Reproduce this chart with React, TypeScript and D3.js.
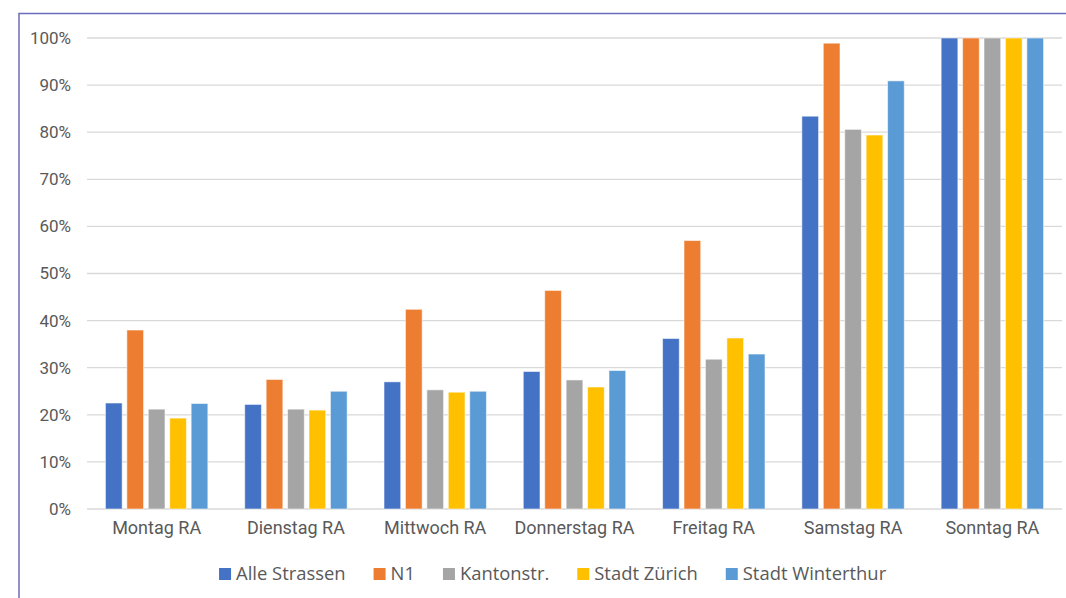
import React, { useEffect, useRef } from "react";
import * as d3 from "d3";

// Weekday categories (RA) and the share of the Sunday value per road type, in percent
const categories = [
  "Montag RA",
  "Dienstag RA",
  "Mittwoch RA",
  "Donnerstag RA",
  "Freitag RA",
  "Samstag RA",
  "Sonntag RA",
];

const seriesNames = ["Alle Strassen", "N1", "Kantonstr.", "Stadt Zürich", "Stadt Winterthur"];

const alleStrassen = [22.5, 22.2, 27.0, 29.2, 36.2, 83.4, 100];
const n1 = [38.0, 27.5, 42.4, 46.4, 57.0, 98.9, 100];
const kantonstr = [21.2, 21.2, 25.3, 27.4, 31.8, 80.6, 100];
const stadtZuerich = [19.3, 21.0, 24.8, 25.9, 36.3, 79.4, 100];
const stadtWinterthur = [22.4, 25.0, 25.0, 29.4, 32.9, 90.9, 100];

const seriesValues = [alleStrassen, n1, kantonstr, stadtZuerich, stadtWinterthur];

const yTicks = [0, 10, 20, 30, 40, 50, 60, 70, 80, 90, 100];

const colors = ["#4472C4", "#ED7D31", "#A5A5A5", "#FFC000", "#5B9BD5"];

const W = 1066;
const H = 598;

export default function App() {
  const ref = useRef<SVGSVGElement | null>(null);

  useEffect(() => {
    const svg = d3.select(ref.current);
    svg.selectAll("*").remove();

    const textColor = "#595959";
    const labelFont = "Roboto, 'DejaVu Sans', sans-serif";
    const legendFont = "'Open Sans', 'Noto Sans', sans-serif";

    // chart frame
    svg
      .append("path")
      .attr("d", `M19,${H + 10} L19,13.5 L${W + 10},13.5`)
      .attr("fill", "none")
      .attr("stroke", "#6c6cbf")
      .attr("stroke-width", 1.5);

    const plotLeft = 87;
    const plotRight = 1062;
    const y = d3.scaleLinear().domain([0, 100]).range([509, 38]);
    const x0 = d3.scaleBand<string>().domain(categories).range([plotLeft, plotRight]).padding(0);
    const x1 = d3
      .scaleBand<string>()
      .domain(seriesNames)
      .range([0, x0.bandwidth()])
      .paddingInner(0.22)
      .paddingOuter(0.86);

    // gridlines
    const grid = svg.append("g");
    grid
      .selectAll("line")
      .data(yTicks)
      .join("line")
      .attr("x1", plotLeft)
      .attr("x2", plotRight)
      .attr("y1", (d) => y(d))
      .attr("y2", (d) => y(d))
      .attr("stroke", "#d9d9d9")
      .attr("stroke-width", 1.3);

    // y tick labels
    svg
      .append("g")
      .selectAll("text")
      .data(yTicks)
      .join("text")
      .attr("x", 71)
      .attr("y", (d) => y(d))
      .attr("dy", "0.35em")
      .attr("text-anchor", "end")
      .attr("font-family", labelFont)
      .attr("font-size", 17)
      .attr("fill", textColor)
      .text((d) => `${d}%`);

    // bars
    const groups = svg
      .append("g")
      .selectAll("g")
      .data(categories)
      .join("g")
      .attr("transform", (d) => `translate(${x0(d)},0)`);

    groups
      .selectAll("rect")
      .data((_, i) => seriesNames.map((s, k) => ({ s, k, v: seriesValues[k][i] })))
      .join("rect")
      .attr("x", (d) => x1(d.s) as number)
      .attr("width", x1.bandwidth())
      .attr("y", (d) => y(d.v))
      .attr("height", (d) => y(0) - y(d.v))
      .attr("fill", (d) => colors[d.k])
      .attr("stroke", "rgba(255,255,255,0.55)")
      .attr("stroke-width", 1);

    // category labels
    svg
      .append("g")
      .selectAll("text")
      .data(categories)
      .join("text")
      .attr("x", (d) => (x0(d) as number) + x0.bandwidth() / 2)
      .attr("y", 534)
      .attr("text-anchor", "middle")
      .attr("font-family", labelFont)
      .attr("font-size", 18)
      .attr("fill", textColor)
      .text((d) => d);

    // legend, centred in the chart frame
    const legend = svg.append("g");
    const items = legend
      .selectAll("g")
      .data(seriesNames)
      .join("g");
    items
      .append("rect")
      .attr("width", 12)
      .attr("height", 12)
      .attr("y", 568)
      .attr("fill", (_, i) => colors[i]);
    items
      .append("text")
      .attr("x", 17)
      .attr("y", 580)
      .attr("font-family", legendFont)
      .attr("font-size", 18.4)
      .attr("fill", textColor)
      .text((d) => d);

    const widths: number[] = [];
    items.select<SVGTextElement>("text").each(function () {
      widths.push(17 + this.getComputedTextLength());
    });
    const gap = 28;
    const total = d3.sum(widths) + gap * (widths.length - 1);
    let cx = 552.6 - total / 2;
    items.attr("transform", (_, i) => {
      const t = `translate(${cx},0)`;
      cx += widths[i] + gap;
      return t;
    });
  }, []);

  return (
    <svg
      ref={ref}
      width={W}
      height={H}
      style={{ position: "absolute", left: 0, top: 0, background: "#ffffff" }}
    />
  );
}
